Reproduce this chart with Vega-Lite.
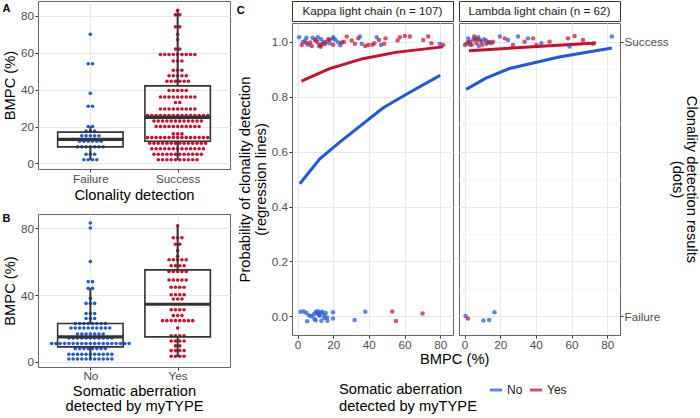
{
"$schema": "https://vega.github.io/schema/vega-lite/v6.json",
"padding": {"top": 0, "left": 1, "right": 0, "bottom": 0},
"background": "white",
"config": {
  "font": "Liberation Sans",
  "view": {"stroke": "#666"},
  "axis": {"domain": false, "tickColor": "#333", "tickSize": 3, "labelPadding": 1.5, "titlePadding": 3, "labelFontSize": 11.7, "labelColor": "#4d4d4d", "titleFontSize": 14.7, "titleFontWeight": "normal", "titleColor": "#000", "gridColor": "#e8e8e8", "titleLineHeight": 16},
  "title": {"fontSize": 11, "fontWeight": "bold", "anchor": "start", "frame": "bounds", "color": "#000"}
},
"datasets": {
  "dotsA": [
    {"g":"Failure","v":70},
    {"g":"Failure","v":54},{"g":"Failure","v":54},
    {"g":"Failure","v":38},
    {"g":"Failure","v":31},{"g":"Failure","v":31},
    {"g":"Failure","v":20},{"g":"Failure","v":20},
    {"g":"Failure","v":17.5},{"g":"Failure","v":17.5},{"g":"Failure","v":17.5},
    {"g":"Failure","v":15},{"g":"Failure","v":15},{"g":"Failure","v":15},{"g":"Failure","v":15},{"g":"Failure","v":15},
    {"g":"Failure","v":12},{"g":"Failure","v":12},{"g":"Failure","v":12},{"g":"Failure","v":12},{"g":"Failure","v":12},{"g":"Failure","v":12},
    {"g":"Failure","v":9},{"g":"Failure","v":9},{"g":"Failure","v":9},{"g":"Failure","v":9},{"g":"Failure","v":9},{"g":"Failure","v":9},{"g":"Failure","v":9},
    {"g":"Failure","v":5},{"g":"Failure","v":5},{"g":"Failure","v":5},
    {"g":"Failure","v":2},{"g":"Failure","v":2},{"g":"Failure","v":2},{"g":"Failure","v":2},
    {"g":"Success","v":83},
    {"g":"Success","v":80.5},{"g":"Success","v":80.5},
    {"g":"Success","v":74},{"g":"Success","v":74},
    {"g":"Success","v":70},
    {"g":"Success","v":67},
    {"g":"Success","v":62},{"g":"Success","v":62},
    {"g":"Success","v":59},{"g":"Success","v":59},{"g":"Success","v":59},{"g":"Success","v":59},{"g":"Success","v":59},{"g":"Success","v":59},{"g":"Success","v":59},{"g":"Success","v":59},{"g":"Success","v":59},
    {"g":"Success","v":55.5},{"g":"Success","v":55.5},{"g":"Success","v":55.5},
    {"g":"Success","v":50.5},{"g":"Success","v":50.5},{"g":"Success","v":50.5},
    {"g":"Success","v":47.5},{"g":"Success","v":47.5},{"g":"Success","v":47.5},{"g":"Success","v":47.5},{"g":"Success","v":47.5},
    {"g":"Success","v":44.5},{"g":"Success","v":44.5},{"g":"Success","v":44.5},{"g":"Success","v":44.5},{"g":"Success","v":44.5},{"g":"Success","v":44.5},
    {"g":"Success","v":39.5},{"g":"Success","v":39.5},{"g":"Success","v":39.5},{"g":"Success","v":39.5},{"g":"Success","v":39.5},
    {"g":"Success","v":36},{"g":"Success","v":36},{"g":"Success","v":36},{"g":"Success","v":36},{"g":"Success","v":36},{"g":"Success","v":36},{"g":"Success","v":36},{"g":"Success","v":36},{"g":"Success","v":36},
    {"g":"Success","v":33},{"g":"Success","v":33},
    {"g":"Success","v":29.5},{"g":"Success","v":29.5},{"g":"Success","v":29.5},{"g":"Success","v":29.5},{"g":"Success","v":29.5},{"g":"Success","v":29.5},{"g":"Success","v":29.5},{"g":"Success","v":29.5},{"g":"Success","v":29.5},
    {"g":"Success","v":26},{"g":"Success","v":26},{"g":"Success","v":26},{"g":"Success","v":26},{"g":"Success","v":26},{"g":"Success","v":26},{"g":"Success","v":26},{"g":"Success","v":26},{"g":"Success","v":26},{"g":"Success","v":26},{"g":"Success","v":26},{"g":"Success","v":26},{"g":"Success","v":26},{"g":"Success","v":26},{"g":"Success","v":26},
    {"g":"Success","v":23},{"g":"Success","v":23},{"g":"Success","v":23},{"g":"Success","v":23},{"g":"Success","v":23},{"g":"Success","v":23},{"g":"Success","v":23},{"g":"Success","v":23},{"g":"Success","v":23},{"g":"Success","v":23},{"g":"Success","v":23},{"g":"Success","v":23},
    {"g":"Success","v":20},{"g":"Success","v":20},{"g":"Success","v":20},{"g":"Success","v":20},{"g":"Success","v":20},{"g":"Success","v":20},{"g":"Success","v":20},{"g":"Success","v":20},{"g":"Success","v":20},{"g":"Success","v":20},{"g":"Success","v":20},
    {"g":"Success","v":16},{"g":"Success","v":16},{"g":"Success","v":16},
    {"g":"Success","v":14},{"g":"Success","v":14},{"g":"Success","v":14},{"g":"Success","v":14},{"g":"Success","v":14},{"g":"Success","v":14},{"g":"Success","v":14},{"g":"Success","v":14},{"g":"Success","v":14},{"g":"Success","v":14},{"g":"Success","v":14},{"g":"Success","v":14},{"g":"Success","v":14},{"g":"Success","v":14},{"g":"Success","v":14},
    {"g":"Success","v":11},{"g":"Success","v":11},{"g":"Success","v":11},{"g":"Success","v":11},{"g":"Success","v":11},{"g":"Success","v":11},{"g":"Success","v":11},{"g":"Success","v":11},{"g":"Success","v":11},{"g":"Success","v":11},{"g":"Success","v":11},{"g":"Success","v":11},{"g":"Success","v":11},{"g":"Success","v":11},
    {"g":"Success","v":8},{"g":"Success","v":8},{"g":"Success","v":8},{"g":"Success","v":8},{"g":"Success","v":8},{"g":"Success","v":8},{"g":"Success","v":8},{"g":"Success","v":8},{"g":"Success","v":8},{"g":"Success","v":8},{"g":"Success","v":8},{"g":"Success","v":8},{"g":"Success","v":8},
    {"g":"Success","v":5},{"g":"Success","v":5},{"g":"Success","v":5},{"g":"Success","v":5},{"g":"Success","v":5},{"g":"Success","v":5},{"g":"Success","v":5},{"g":"Success","v":5},{"g":"Success","v":5},{"g":"Success","v":5},{"g":"Success","v":5},{"g":"Success","v":5},
    {"g":"Success","v":2},{"g":"Success","v":2},{"g":"Success","v":2},{"g":"Success","v":2},{"g":"Success","v":2},{"g":"Success","v":2},{"g":"Success","v":2},{"g":"Success","v":2},{"g":"Success","v":2},{"g":"Success","v":2}
  ],
  "boxA": [
    {"g":"Failure","lo":2,"q1":9,"md":13,"q3":17,"hi":20},
    {"g":"Success","lo":2,"q1":12,"md":25,"q3":42,"hi":83}
  ],
  "dotsB": [
    {"g":"No","v":83},{"g":"No","v":80},{"g":"No","v":60},
    {"g":"No","v":48},{"g":"No","v":48},
    {"g":"No","v":44},{"g":"No","v":44},
    {"g":"No","v":38},
    {"g":"No","v":35},{"g":"No","v":35},{"g":"No","v":35},
    {"g":"No","v":29},{"g":"No","v":29},{"g":"No","v":29},
    {"g":"No","v":26},{"g":"No","v":26},{"g":"No","v":26},
    {"g":"No","v":23},{"g":"No","v":23},{"g":"No","v":23},{"g":"No","v":23},{"g":"No","v":23},{"g":"No","v":23},{"g":"No","v":23},{"g":"No","v":23},
    {"g":"No","v":20.3},{"g":"No","v":20.3},{"g":"No","v":20.3},{"g":"No","v":20.3},{"g":"No","v":20.3},{"g":"No","v":20.3},{"g":"No","v":20.3},{"g":"No","v":20.3},{"g":"No","v":20.3},{"g":"No","v":20.3},
    {"g":"No","v":16.7},{"g":"No","v":16.7},{"g":"No","v":16.7},{"g":"No","v":16.7},{"g":"No","v":16.7},{"g":"No","v":16.7},{"g":"No","v":16.7},
    {"g":"No","v":14.3},{"g":"No","v":14.3},{"g":"No","v":14.3},{"g":"No","v":14.3},{"g":"No","v":14.3},{"g":"No","v":14.3},{"g":"No","v":14.3},{"g":"No","v":14.3},{"g":"No","v":14.3},{"g":"No","v":14.3},{"g":"No","v":14.3},
    {"g":"No","v":11},{"g":"No","v":11},{"g":"No","v":11},{"g":"No","v":11},{"g":"No","v":11},{"g":"No","v":11},{"g":"No","v":11},{"g":"No","v":11},{"g":"No","v":11},{"g":"No","v":11},{"g":"No","v":11},{"g":"No","v":11},{"g":"No","v":11},{"g":"No","v":11},{"g":"No","v":11},{"g":"No","v":11},{"g":"No","v":11},{"g":"No","v":11},{"g":"No","v":11},
    {"g":"No","v":8},{"g":"No","v":8},{"g":"No","v":8},{"g":"No","v":8},{"g":"No","v":8},{"g":"No","v":8},{"g":"No","v":8},{"g":"No","v":8},
    {"g":"No","v":4.6},{"g":"No","v":4.6},{"g":"No","v":4.6},{"g":"No","v":4.6},{"g":"No","v":4.6},{"g":"No","v":4.6},{"g":"No","v":4.6},{"g":"No","v":4.6},{"g":"No","v":4.6},{"g":"No","v":4.6},{"g":"No","v":4.6},
    {"g":"No","v":1.8},{"g":"No","v":1.8},{"g":"No","v":1.8},{"g":"No","v":1.8},{"g":"No","v":1.8},{"g":"No","v":1.8},{"g":"No","v":1.8},{"g":"No","v":1.8},{"g":"No","v":1.8},{"g":"No","v":1.8},{"g":"No","v":1.8},
    {"g":"Yes","v":81.4},
    {"g":"Yes","v":74.2},{"g":"Yes","v":74.2},{"g":"Yes","v":74.2},
    {"g":"Yes","v":70.3},{"g":"Yes","v":70.3},
    {"g":"Yes","v":66.5},{"g":"Yes","v":63.1},
    {"g":"Yes","v":61.1},{"g":"Yes","v":61.1},{"g":"Yes","v":61.1},{"g":"Yes","v":61.1},{"g":"Yes","v":61.1},
    {"g":"Yes","v":57.5},{"g":"Yes","v":57.5},{"g":"Yes","v":57.5},{"g":"Yes","v":57.5},
    {"g":"Yes","v":54.1},{"g":"Yes","v":54.1},{"g":"Yes","v":54.1},{"g":"Yes","v":54.1},{"g":"Yes","v":54.1},
    {"g":"Yes","v":49},{"g":"Yes","v":49},{"g":"Yes","v":49},{"g":"Yes","v":49},{"g":"Yes","v":49},
    {"g":"Yes","v":44.6},{"g":"Yes","v":44.6},{"g":"Yes","v":44.6},{"g":"Yes","v":44.6},
    {"g":"Yes","v":40.2},{"g":"Yes","v":40.2},{"g":"Yes","v":40.2},{"g":"Yes","v":40.2},
    {"g":"Yes","v":37.6},{"g":"Yes","v":37.6},{"g":"Yes","v":37.6},
    {"g":"Yes","v":31.2},{"g":"Yes","v":31.2},{"g":"Yes","v":31.2},{"g":"Yes","v":31.2},
    {"g":"Yes","v":27.7},{"g":"Yes","v":27.7},{"g":"Yes","v":27.7},
    {"g":"Yes","v":24.7},{"g":"Yes","v":24.7},{"g":"Yes","v":24.7},{"g":"Yes","v":24.7},{"g":"Yes","v":24.7},{"g":"Yes","v":24.7},{"g":"Yes","v":24.7},{"g":"Yes","v":24.7},
    {"g":"Yes","v":20.3},
    {"g":"Yes","v":15.7},{"g":"Yes","v":15.7},{"g":"Yes","v":15.7},{"g":"Yes","v":15.7},
    {"g":"Yes","v":12.5},{"g":"Yes","v":12.5},{"g":"Yes","v":12.5},{"g":"Yes","v":12.5},
    {"g":"Yes","v":9.6},{"g":"Yes","v":9.6},
    {"g":"Yes","v":6.8},{"g":"Yes","v":6.8},{"g":"Yes","v":6.8},{"g":"Yes","v":6.8},
    {"g":"Yes","v":3.4},{"g":"Yes","v":3.4},{"g":"Yes","v":3.4},{"g":"Yes","v":3.4}
  ],
  "boxB": [
    {"g":"No","lo":2,"q1":9,"md":15,"q3":23,"hi":44},
    {"g":"Yes","lo":3,"q1":15,"md":34.5,"q3":55,"hi":81}
  ],
  "pts": [
    {"c":"K","a":"No","x":0.9,"y":1.017},{"c":"K","a":"No","x":4.3,"y":1.005},{"c":"K","a":"No","x":8.4,"y":1.015},{"c":"K","a":"No","x":11.4,"y":1.017},{"c":"K","a":"No","x":13.2,"y":1.01},{"c":"K","a":"No","x":14.5,"y":1.0},{"c":"K","a":"No","x":20.1,"y":1.017},{"c":"K","a":"No","x":21.4,"y":1.007},{"c":"K","a":"No","x":22.9,"y":0.998},{"c":"K","a":"No","x":35.0,"y":1.02},{"c":"K","a":"No","x":36.0,"y":0.993},{"c":"K","a":"No","x":44.4,"y":1.017},{"c":"K","a":"No","x":46.8,"y":0.989},{"c":"K","a":"No","x":79.8,"y":0.993},
    {"c":"K","a":"No","x":3,"y":1.0},{"c":"K","a":"No","x":6,"y":0.99},{"c":"K","a":"No","x":10,"y":1.008},{"c":"K","a":"No","x":12,"y":0.986},{"c":"K","a":"No","x":16,"y":1.0},{"c":"K","a":"No","x":18,"y":0.995},{"c":"K","a":"No","x":20,"y":1.012},{"c":"K","a":"No","x":24,"y":0.988},{"c":"K","a":"No","x":5,"y":1.015},
    {"c":"K","a":"Yes","x":2.4,"y":0.989},{"c":"K","a":"Yes","x":7.1,"y":0.998},{"c":"K","a":"Yes","x":9.9,"y":1.007},{"c":"K","a":"Yes","x":12.7,"y":0.989},{"c":"K","a":"Yes","x":15.5,"y":0.993},{"c":"K","a":"Yes","x":17.3,"y":1.01},{"c":"K","a":"Yes","x":24.8,"y":0.998},{"c":"K","a":"Yes","x":27.6,"y":1.02},{"c":"K","a":"Yes","x":30.4,"y":1.005},{"c":"K","a":"Yes","x":32.2,"y":0.993},{"c":"K","a":"Yes","x":34.1,"y":1.013},{"c":"K","a":"Yes","x":39.7,"y":0.989},{"c":"K","a":"Yes","x":43.1,"y":0.995},{"c":"K","a":"Yes","x":45.7,"y":1.007},{"c":"K","a":"Yes","x":48.6,"y":0.993},{"c":"K","a":"Yes","x":49.4,"y":1.013},{"c":"K","a":"Yes","x":56.1,"y":1.005},{"c":"K","a":"Yes","x":57.4,"y":1.017},{"c":"K","a":"Yes","x":60.2,"y":1.022},{"c":"K","a":"Yes","x":63.0,"y":1.02},{"c":"K","a":"Yes","x":70.5,"y":1.007},{"c":"K","a":"Yes","x":73.3,"y":1.02},{"c":"K","a":"Yes","x":75.1,"y":0.995},{"c":"K","a":"Yes","x":81.7,"y":0.989},
    {"c":"K","a":"Yes","x":5,"y":0.995},{"c":"K","a":"Yes","x":8,"y":0.985},{"c":"K","a":"Yes","x":11,"y":1.0},{"c":"K","a":"Yes","x":14,"y":0.992},{"c":"K","a":"Yes","x":18,"y":1.008},{"c":"K","a":"Yes","x":13,"y":0.982},{"c":"K","a":"Yes","x":20,"y":0.99},{"c":"K","a":"Yes","x":26,"y":1.0},{"c":"K","a":"Yes","x":38,"y":0.985},{"c":"K","a":"Yes","x":42,"y":0.99},
    {"c":"K","a":"No","x":1.7,"y":0.017},{"c":"K","a":"No","x":3.5,"y":0.018},{"c":"K","a":"No","x":5,"y":0.012},{"c":"K","a":"No","x":5.4,"y":-0.018},{"c":"K","a":"No","x":7.8,"y":0.0},{"c":"K","a":"No","x":9.1,"y":0.008},{"c":"K","a":"No","x":10.2,"y":0.017},{"c":"K","a":"No","x":10.2,"y":-0.014},{"c":"K","a":"No","x":11.5,"y":0.019},{"c":"K","a":"No","x":12.5,"y":0.002},{"c":"K","a":"No","x":13.4,"y":-0.016},{"c":"K","a":"No","x":14,"y":0.017},{"c":"K","a":"No","x":14.9,"y":0.005},{"c":"K","a":"No","x":15.8,"y":0.012},{"c":"K","a":"No","x":16.6,"y":-0.004},{"c":"K","a":"No","x":16.8,"y":-0.016},{"c":"K","a":"No","x":19.9,"y":0.015},{"c":"K","a":"No","x":19.9,"y":-0.008},{"c":"K","a":"No","x":32,"y":-0.013},{"c":"K","a":"No","x":38,"y":0.017},{"c":"K","a":"No","x":6.5,"y":0.003},{"c":"K","a":"No","x":11,"y":0.01},{"c":"K","a":"No","x":13,"y":0.014},{"c":"K","a":"No","x":15,"y":-0.006},{"c":"K","a":"No","x":9.5,"y":-0.01},{"c":"K","a":"No","x":12,"y":0.006},
    {"c":"K","a":"Yes","x":53.1,"y":0.018},{"c":"K","a":"Yes","x":55.2,"y":-0.017},{"c":"K","a":"Yes","x":70.1,"y":0.01},
    {"c":"L","a":"No","x":1.1,"y":0.993},{"c":"L","a":"No","x":2.1,"y":1.013},{"c":"L","a":"No","x":4.9,"y":1.007},{"c":"L","a":"No","x":7.7,"y":1.017},{"c":"L","a":"No","x":9.5,"y":1.001},{"c":"L","a":"No","x":11,"y":1.01},{"c":"L","a":"No","x":13.3,"y":0.998},{"c":"L","a":"No","x":19.8,"y":1.02},{"c":"L","a":"No","x":24.4,"y":1.007},{"c":"L","a":"No","x":30,"y":1.02},{"c":"L","a":"No","x":35.6,"y":1.013},{"c":"L","a":"No","x":43.1,"y":0.995},{"c":"L","a":"No","x":58.9,"y":0.983},{"c":"L","a":"No","x":82.6,"y":1.02},{"c":"L","a":"No","x":3,"y":0.99},{"c":"L","a":"No","x":6,"y":1.012},{"c":"L","a":"No","x":8,"y":0.985},{"c":"L","a":"No","x":12,"y":1.005},{"c":"L","a":"No","x":15,"y":0.995},
    {"c":"L","a":"Yes","x":0.2,"y":0.989},{"c":"L","a":"Yes","x":3,"y":1.001},{"c":"L","a":"Yes","x":5.4,"y":1.02},{"c":"L","a":"Yes","x":6.7,"y":0.995},{"c":"L","a":"Yes","x":8.6,"y":1.007},{"c":"L","a":"Yes","x":12.3,"y":0.993},{"c":"L","a":"Yes","x":16,"y":1.001},{"c":"L","a":"Yes","x":22.6,"y":1.013},{"c":"L","a":"Yes","x":27.2,"y":0.989},{"c":"L","a":"Yes","x":33.7,"y":1.001},{"c":"L","a":"Yes","x":38.4,"y":1.013},{"c":"L","a":"Yes","x":40.3,"y":0.989},{"c":"L","a":"Yes","x":47.7,"y":1.001},{"c":"L","a":"Yes","x":58,"y":1.013},{"c":"L","a":"Yes","x":61.7,"y":1.022},{"c":"L","a":"Yes","x":66.4,"y":1.007},{"c":"L","a":"Yes","x":72,"y":0.993},{"c":"L","a":"Yes","x":2,"y":1.0},{"c":"L","a":"Yes","x":4,"y":0.99},{"c":"L","a":"Yes","x":7,"y":1.01},{"c":"L","a":"Yes","x":10,"y":0.99},{"c":"L","a":"Yes","x":14,"y":1.0},
    {"c":"L","a":"No","x":0.6,"y":0.001},{"c":"L","a":"No","x":10.6,"y":-0.015},{"c":"L","a":"No","x":13.8,"y":-0.013},{"c":"L","a":"No","x":16.8,"y":0.015},{"c":"L","a":"Yes","x":1.9,"y":-0.008}
  ],
  "lines": [
    {"c":"K","a":"No","x":1.3,"y":0.483},{"c":"K","a":"No","x":12.5,"y":0.574},{"c":"K","a":"No","x":23.7,"y":0.635},{"c":"K","a":"No","x":47.9,"y":0.759},{"c":"K","a":"No","x":64,"y":0.82},{"c":"K","a":"No","x":80,"y":0.878},
    {"c":"K","a":"Yes","x":2.2,"y":0.857},{"c":"K","a":"Yes","x":18,"y":0.903},{"c":"K","a":"Yes","x":36.7,"y":0.939},{"c":"K","a":"Yes","x":55,"y":0.962},{"c":"K","a":"Yes","x":81.5,"y":0.982},
    {"c":"L","a":"No","x":0.9,"y":0.827},{"c":"L","a":"No","x":12,"y":0.868},{"c":"L","a":"No","x":25.2,"y":0.903},{"c":"L","a":"No","x":53.1,"y":0.945},{"c":"L","a":"No","x":82.6,"y":0.978},
    {"c":"L","a":"Yes","x":2.4,"y":0.968},{"c":"L","a":"Yes","x":73.7,"y":0.996}
  ]
},
"resolve": {"scale": {"fill": "independent"}},
"spacing": 5,
"hconcat": [
  {
    "spacing": 9,
    "resolve": {"scale": {"fill": "independent"}},
    "vconcat": [
      {
        "width": 192, "height": 168,
        "title": {"text": "A", "offset": -13},
        "layer": [
          {
            "data": {"name": "dotsA"},
            "transform": [
              {"window": [{"op": "row_number", "as": "rn"}], "groupby": ["g", "v"]},
              {"joinaggregate": [{"op": "count", "as": "n"}], "groupby": ["g", "v"]},
              {"calculate": "(datum.g === 'Failure' ? 1 : 2) + (datum.rn - (datum.n + 1) / 2) * 0.0493", "as": "px"}
            ],
            "mark": {"type": "circle", "size": 13, "opacity": 1},
            "encoding": {
              "x": {"field": "px", "type": "quantitative", "scale": {"domain": [0.4, 2.6], "nice": false, "zero": false}, "axis": {"title": "Clonality detection", "values": [1, 2], "labelExpr": "datum.value === 1 ? 'Failure' : 'Success'", "grid": true, "labelPadding": 1}},
              "y": {"field": "v", "type": "quantitative", "scale": {"domain": [-3, 88], "nice": false, "zero": false}, "axis": {"title": "BMPC (%)", "values": [0,10,20,30,40,50,60,70,80], "labelExpr": "datum.value % 20 === 0 ? datum.label : ''", "tickOpacity": {"condition": {"test": "datum.value % 20 !== 0", "value": 0}, "value": 1}, "gridColor": {"condition": {"test": "datum.value % 20 !== 0", "value": "#f4f4f4"}, "value": "#e8e8e8"}}},
              "fill": {"field": "g", "type": "nominal", "scale": {"domain": ["Failure", "Success"], "range": ["#1f59db", "#c8102e"]}, "legend": null}
            }
          },
          {
            "data": {"name": "boxA"},
            "transform": [
              {"calculate": "datum.g === 'Failure' ? 1 : 2", "as": "i"},
              {"calculate": "datum.i - 0.375", "as": "i1"},
              {"calculate": "datum.i + 0.375", "as": "i2"}
            ],
            "layer": [
              {"mark": {"type": "rule", "color": "#333", "strokeWidth": 2}, "encoding": {"x": {"field": "i", "type": "quantitative"}, "y": {"field": "lo", "type": "quantitative"}, "y2": {"field": "q1"}}},
              {"mark": {"type": "rule", "color": "#333", "strokeWidth": 2}, "encoding": {"x": {"field": "i", "type": "quantitative"}, "y": {"field": "q3", "type": "quantitative"}, "y2": {"field": "hi"}}},
              {"mark": {"type": "rect", "fill": "transparent", "stroke": "#333", "strokeWidth": 1.6}, "encoding": {"x": {"field": "i1", "type": "quantitative"}, "x2": {"field": "i2"}, "y": {"field": "q1", "type": "quantitative"}, "y2": {"field": "q3"}}},
              {"mark": {"type": "rule", "color": "#333", "strokeWidth": 3.2}, "encoding": {"x": {"field": "i1", "type": "quantitative"}, "x2": {"field": "i2"}, "y": {"field": "md", "type": "quantitative"}}}
            ]
          }
        ]
      },
      {
        "width": 192, "height": 153,
        "title": {"text": "B", "offset": -10},
        "layer": [
          {
            "data": {"name": "dotsB"},
            "transform": [
              {"window": [{"op": "row_number", "as": "rn"}], "groupby": ["g", "v"]},
              {"joinaggregate": [{"op": "count", "as": "n"}], "groupby": ["g", "v"]},
              {"calculate": "(datum.g === 'No' ? 1 : 2) + (datum.rn - (datum.n + 1) / 2) * 0.0493", "as": "px"}
            ],
            "mark": {"type": "circle", "size": 13, "opacity": 1},
            "encoding": {
              "x": {"field": "px", "type": "quantitative", "scale": {"domain": [0.4, 2.6], "nice": false, "zero": false}, "axis": {"title": ["Somatic aberration", "detected by myTYPE"], "values": [1, 2], "labelExpr": "datum.value === 1 ? 'No' : 'Yes'", "grid": true, "labelPadding": 0, "titlePadding": 2, "titleLineHeight": 15}},
              "y": {"field": "v", "type": "quantitative", "scale": {"domain": [-3, 88.4], "nice": false, "zero": false}, "axis": {"title": "BMPC (%)", "values": [0,10,20,30,40,50,60,70,80], "labelExpr": "datum.value % 20 === 0 ? datum.label : ''", "tickOpacity": {"condition": {"test": "datum.value % 20 !== 0", "value": 0}, "value": 1}, "gridColor": {"condition": {"test": "datum.value % 20 !== 0", "value": "#f4f4f4"}, "value": "#e8e8e8"}}},
              "fill": {"field": "g", "type": "nominal", "scale": {"domain": ["No", "Yes"], "range": ["#1f59db", "#c8102e"]}, "legend": null}
            }
          },
          {
            "data": {"name": "boxB"},
            "transform": [
              {"calculate": "datum.g === 'No' ? 1 : 2", "as": "i"},
              {"calculate": "datum.i - 0.375", "as": "i1"},
              {"calculate": "datum.i + 0.375", "as": "i2"}
            ],
            "layer": [
              {"mark": {"type": "rule", "color": "#333", "strokeWidth": 2}, "encoding": {"x": {"field": "i", "type": "quantitative"}, "y": {"field": "lo", "type": "quantitative"}, "y2": {"field": "q1"}}},
              {"mark": {"type": "rule", "color": "#333", "strokeWidth": 2}, "encoding": {"x": {"field": "i", "type": "quantitative"}, "y": {"field": "q3", "type": "quantitative"}, "y2": {"field": "hi"}}},
              {"mark": {"type": "rect", "fill": "transparent", "stroke": "#333", "strokeWidth": 1.6}, "encoding": {"x": {"field": "i1", "type": "quantitative"}, "x2": {"field": "i2"}, "y": {"field": "q1", "type": "quantitative"}, "y2": {"field": "q3"}}},
              {"mark": {"type": "rule", "color": "#333", "strokeWidth": 3.2}, "encoding": {"x": {"field": "i1", "type": "quantitative"}, "x2": {"field": "i2"}, "y": {"field": "md", "type": "quantitative"}}}
            ]
          }
        ]
      }
    ]
  },
  {
    "spacing": 4,
    "title": {"text": "BMPC (%)", "orient": "bottom", "anchor": "middle", "frame": "bounds", "dx": -13, "fontSize": 14.7, "fontWeight": "normal", "offset": 0},
    "hconcat": [
      {
        "title": {"text": "C", "offset": -15},
        "spacing": 0,
        "vconcat": [
          {
            "width": 161, "height": 20,
            "data": {"values": [{"t": "Kappa light chain (n = 107)"}]},
            "mark": {"type": "text", "fontSize": 11.7, "color": "#1a1a1a"},
            "encoding": {"text": {"field": "t"}},
            "view": {"stroke": "#333"}
          },
          {
            "width": 161, "height": 312,
            "layer": [
              {
                "data": {"name": "lines"},
                "transform": [{"filter": "datum.c === 'K'"}],
                "mark": {"type": "line", "strokeWidth": 3},
                "encoding": {
                  "x": {"field": "x", "type": "quantitative", "scale": {"domain": [-3.1, 87.2], "nice": false, "zero": false}, "axis": {"title": null, "values": [0,10,20,30,40,50,60,70,80], "labelExpr": "datum.value % 20 === 0 ? datum.label : ''", "tickOpacity": {"condition": {"test": "datum.value % 20 !== 0", "value": 0}, "value": 1}, "gridColor": {"condition": {"test": "datum.value % 20 !== 0", "value": "#f4f4f4"}, "value": "#e8e8e8"}}},
                  "y": {"field": "y", "type": "quantitative", "scale": {"domain": [-0.068, 1.069], "nice": false, "zero": false}, "axis": {"title": ["Probability of clonality detection", "(regression lines)"], "values": [0,0.1,0.2,0.3,0.4,0.5,0.6,0.7,0.8,0.9,1], "format": ".1f", "labelExpr": "round(datum.value*10) % 2 === 0 ? datum.label : ''", "tickOpacity": {"condition": {"test": "round(datum.value*10) % 2 === 1", "value": 0}, "value": 1}, "gridColor": {"condition": {"test": "round(datum.value*10) % 2 === 1", "value": "#f4f4f4"}, "value": "#e8e8e8"}}},
                  "color": {"field": "a", "type": "nominal", "scale": {"domain": ["No", "Yes"], "range": ["#1f59db", "#c8102e"]}, "legend": {"title": ["Somatic aberration", "detected by myTYPE"], "orient": "none", "legendX": 301, "legendY": 381, "direction": "horizontal", "titleOrient": "left", "titleAnchor": "start", "titleBaseline": "top", "symbolType": "stroke", "symbolStrokeWidth": 3, "symbolSize": 150, "labelOffset": 3, "labelFontSize": 12, "labelColor": "#1a1a1a", "titleFontSize": 14.7, "titleFontWeight": "normal", "titleColor": "#000", "titlePadding": 11, "columnPadding": 0, "titleLineHeight": 16.5}}
                }
              },
              {
                "data": {"name": "pts"},
                "transform": [{"filter": "datum.c === 'K'"}],
                "mark": {"type": "circle", "size": 20, "opacity": 0.72},
                "encoding": {
                  "x": {"field": "x", "type": "quantitative", "scale": {"domain": [-3.1, 87.2], "nice": false, "zero": false}},
                  "y": {"field": "y", "type": "quantitative", "scale": {"domain": [-0.068, 1.069], "nice": false, "zero": false}},
                  "color": {"field": "a", "type": "nominal"}
                }
              }
            ]
          }
        ]
      },
      {
        "spacing": 0,
        "vconcat": [
          {
            "width": 161, "height": 20,
            "data": {"values": [{"t": "Lambda light chain (n = 62)"}]},
            "mark": {"type": "text", "fontSize": 11.7, "color": "#1a1a1a"},
            "encoding": {"text": {"field": "t"}},
            "view": {"stroke": "#333"}
          },
          {
            "width": 161, "height": 312,
            "resolve": {"scale": {"y": "independent"}, "axis": {"y": "independent"}},
            "layer": [
              {
                "data": {"name": "lines"},
                "transform": [{"filter": "datum.c === 'L'"}],
                "mark": {"type": "line", "strokeWidth": 3},
                "encoding": {
                  "x": {"field": "x", "type": "quantitative", "scale": {"domain": [-3.1, 87.2], "nice": false, "zero": false}, "axis": {"title": null, "values": [0,10,20,30,40,50,60,70,80], "labelExpr": "datum.value % 20 === 0 ? datum.label : ''", "tickOpacity": {"condition": {"test": "datum.value % 20 !== 0", "value": 0}, "value": 1}, "gridColor": {"condition": {"test": "datum.value % 20 !== 0", "value": "#f4f4f4"}, "value": "#e8e8e8"}}},
                  "y": {"field": "y", "type": "quantitative", "scale": {"domain": [-0.068, 1.069], "nice": false, "zero": false}, "axis": {"title": null, "labels": false, "ticks": false, "values": [0,0.1,0.2,0.3,0.4,0.5,0.6,0.7,0.8,0.9,1], "gridColor": {"condition": {"test": "round(datum.value*10) % 2 === 1", "value": "#f4f4f4"}, "value": "#e8e8e8"}}},
                  "color": {"field": "a", "type": "nominal"}
                }
              },
              {
                "data": {"name": "pts"},
                "transform": [{"filter": "datum.c === 'L'"}],
                "mark": {"type": "circle", "size": 20, "opacity": 0.72},
                "encoding": {
                  "x": {"field": "x", "type": "quantitative", "scale": {"domain": [-3.1, 87.2], "nice": false, "zero": false}},
                  "y": {"field": "y", "type": "quantitative", "scale": {"domain": [-0.068, 1.069], "nice": false, "zero": false}, "axis": {"orient": "right", "values": [0, 1], "labelExpr": "datum.value === 1 ? 'Success' : 'Failure'", "grid": false, "labelPadding": 1, "title": ["Clonality detection results", "(dots)"], "titlePadding": 1, "titleLineHeight": 14}},
                  "color": {"field": "a", "type": "nominal"}
                }
              }
            ]
          }
        ]
      }
    ]
  }
]
}
